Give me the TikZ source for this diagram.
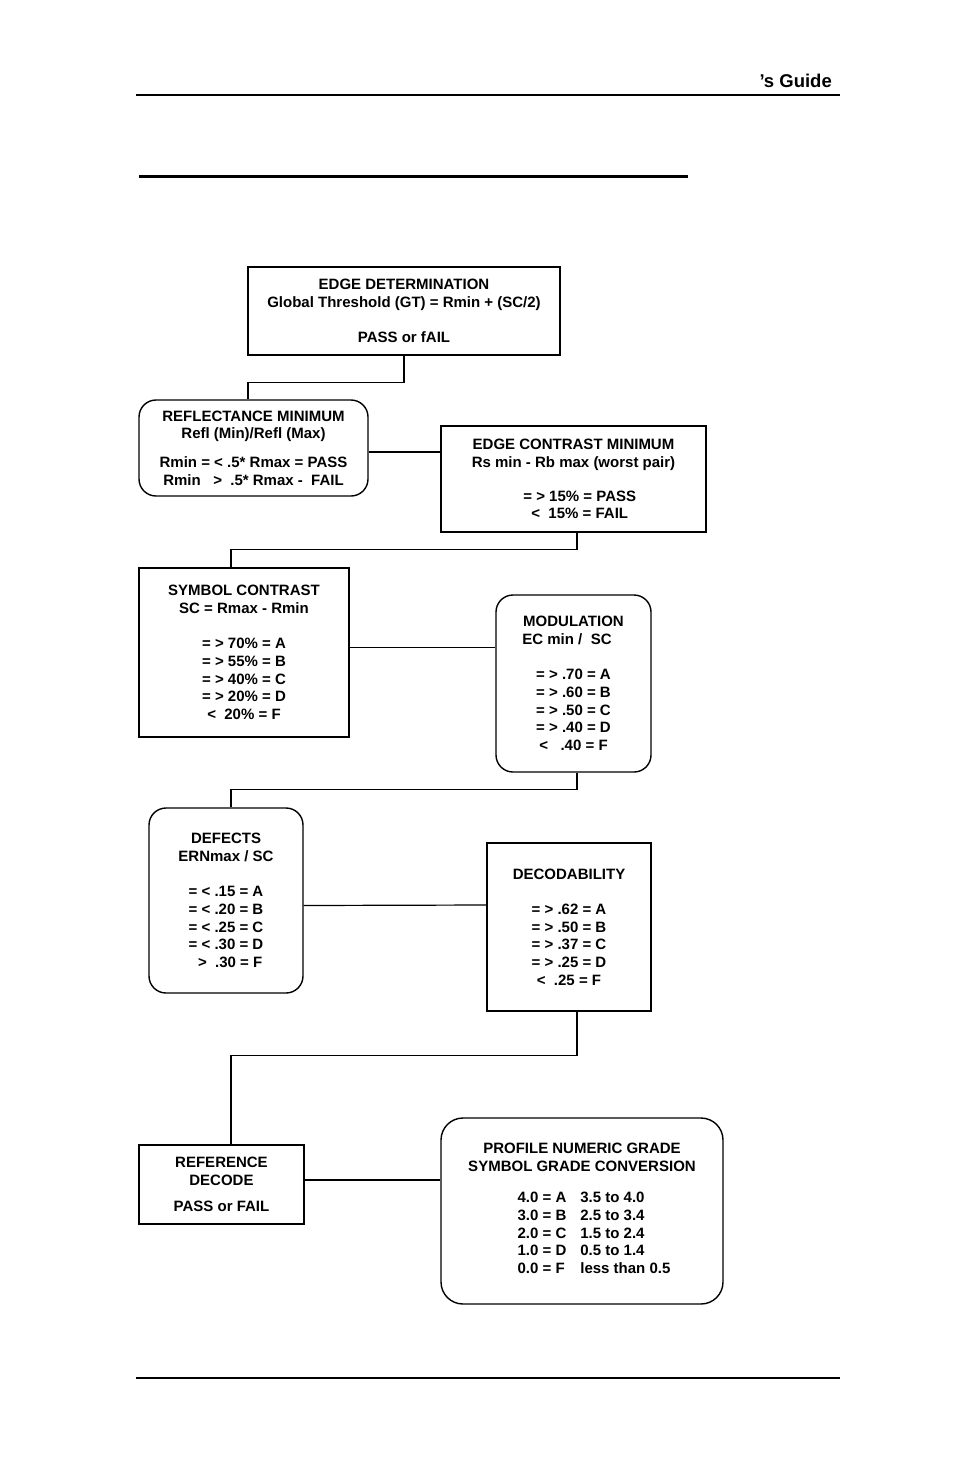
\documentclass[tikz,border=0pt]{standalone}
\usepackage{fontspec}
\setmainfont{Liberation Sans}
\usetikzlibrary{calc}
\tikzset{
  stage/.style={draw, line width=1.4pt, align=center, inner sep=0pt,
    font=\bfseries\fontsize{15}{17.7}\selectfont},
  roundstage/.style={stage, rounded corners=17pt},
  link/.style={line width=1.2pt},
}
\begin{document}
\begin{tikzpicture}[x=1pt,y=-1pt]
\useasboundingbox (0,0) rectangle (954,1475);
% page header, title rule and footer
\node[anchor=base east, inner sep=0pt, font=\bfseries\fontsize{18.5}{20}\selectfont] (hdr) at (832,87) {’s Guide};
\draw[line width=2pt] (136,95) -- (840,95);
\draw[line width=3pt] (139,176) -- (688,176);
\draw[line width=1.3pt] (136,1378) -- (840,1378);
% grading stages
\node[stage, minimum width=312pt, minimum height=88pt] (edge) at (404,311)
  {EDGE DETERMINATION\\Global Threshold (GT) = Rmin + (SC/2)\\[17.7pt]PASS or fAIL};
\node[roundstage, minimum width=229pt, minimum height=96pt] (refl) at (253.5,448)
  {REFLECTANCE MINIMUM\\Refl (Min)/Refl (Max)\\[11pt]Rmin = < .5* Rmax = PASS\\Rmin \ \ > \ .5* Rmax - \ FAIL};
\node[stage, minimum width=265pt, minimum height=106pt] (contr) at (573.5,479)
  {EDGE CONTRAST MINIMUM\\Rs min - Rb max (worst pair)\\[16pt]\ \ \ = > 15\% = PASS\\\ \ \ < \ 15\% = FAIL};
\node[stage, minimum width=210pt, minimum height=169pt] (sym) at (244,652.5)
  {SYMBOL CONTRAST\\SC = Rmax - Rmin\\[17.7pt]= > 70\% = A\\= > 55\% = B\\= > 40\% = C\\= > 20\% = D\\< \ 20\% = F};
\node[roundstage, minimum width=155pt, minimum height=177pt] (mod) at (573.5,683.5)
  {MODULATION\\EC min / \ SC\hspace{13pt}\mbox{}\\[17.7pt]= > .70 = A\\= > .60 = B\\= > .50 = C\\= > .40 = D\\< \ \ .40 = F};
\node[roundstage, minimum width=154pt, minimum height=185pt] (def) at (226,900.5)
  {DEFECTS\\ERNmax / SC\\[17.7pt]= < .15 = A\\= < .20 = B\\= < .25 = C\\= < .30 = D\\\ \ > \ .30 = F};
\node[stage, minimum width=164pt, minimum height=168pt] (dec) at (569,927)
  {DECODABILITY\\[17.7pt]= > .62 = A\\= > .50 = B\\= > .37 = C\\= > .25 = D\\< \ .25 = F};
\node[stage, minimum width=165pt, minimum height=79pt] (ref) at (221.5,1184.5)
  {REFERENCE\\DECODE\\[8pt]PASS or FAIL};
\node[roundstage, rounded corners=22pt, minimum width=282pt, minimum height=186pt] (prof) at (582,1211)
  {PROFILE NUMERIC GRADE\\SYMBOL GRADE CONVERSION\\[17.7pt]\hspace*{24pt}%
   \begin{tabular}{@{}l@{\hspace{14pt}}l@{}}
   4.0 = A & 3.5 to 4.0\\
   3.0 = B & 2.5 to 3.4\\
   2.0 = C & 1.5 to 2.4\\
   1.0 = D & 0.5 to 1.4\\
   0.0 = F & less than 0.5
   \end{tabular}};
% connectors
\draw[link] (edge.south) -- ++(0,27) -| ($(refl.north)+(-5.5,0)$);
\draw[link] ($(refl.east)+(0,4)$) -- ($(contr.west)+(0,-27)$);
\draw[link] ($(contr.south)+(3.5,0)$) -- ++(0,17) -| ($(sym.north)+(-13,0)$);
\draw[link] ($(sym.east)+(0,-5)$) -- ($(mod.west)+(0,-36)$);
\draw[link] ($(mod.south)+(3.5,0)$) -- ++(0,17) -| ($(def.north)+(5,0)$);
\draw[link] ($(def.east)+(0,5)$) -- ($(dec.west)+(0,-22)$);
\draw[link] ($(dec.south)+(8,0)$) -- ++(0,44) -| ($(ref.north)+(9.5,0)$);
\draw[link] ($(ref.east)+(0,-4.5)$) -- ($(prof.west)+(0,-31)$);
\end{tikzpicture}
\end{document}
